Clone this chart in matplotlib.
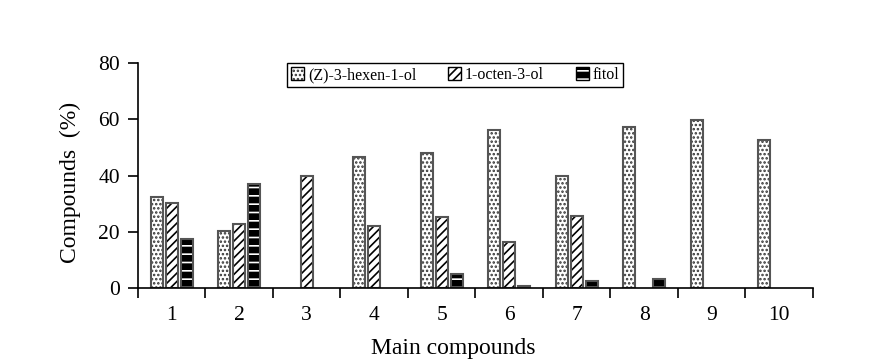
import matplotlib
matplotlib.use("Agg")
import matplotlib.pyplot as plt
import numpy as np
from matplotlib.patches import Patch
from matplotlib.legend_handler import HandlerTuple

plt.rcParams['font.family'] = ['Liberation Serif', 'DejaVu Serif']
plt.rcParams['hatch.linewidth'] = 1.2

categories = ['1', '2', '3', '4', '5', '6', '7', '8', '9', '10']
hexenol = [32.4, 20.3, 0, 46.7, 47.9, 56.2, 39.8, 57.4, 59.6, 52.5]
octenol = [30.2, 22.7, 39.9, 22.1, 25.3, 16.2, 25.7, 0, 0, 0]
fitol = [17.4, 36.9, 0, 0, 5.0, 0.8, 2.6, 3.1, 0, 0]
labels = ['(Z)-3-hexen-1-ol', '1-octen-3-ol', 'fitol']

fig = plt.figure(figsize=(8.93, 3.61), dpi=100)
ax = fig.add_axes([0.1545, 0.2022, 0.7559, 0.6233])

x = np.arange(1, len(categories) + 1)
w = 0.18
off = 0.222
edge = '#555555'

def nz(vals):
    return [v if v > 0 else np.nan for v in vals]

ax.bar(x - off, nz(hexenol), w, facecolor='white', edgecolor='#333333', hatch='....', linewidth=0)
ax.bar(x - off, nz(hexenol), w, fill=False, edgecolor=edge, linewidth=1.5)
ax.bar(x, nz(octenol), w, facecolor='white', edgecolor='black', hatch='////', linewidth=0)
ax.bar(x, nz(octenol), w, fill=False, edgecolor=edge, linewidth=1.5)
ax.bar(x + off, nz(fitol), w, facecolor='black', edgecolor='white', hatch='--', linewidth=0)
ax.bar(x + off, nz(fitol), w, fill=False, edgecolor=edge, linewidth=1.5)

ax.set_xlim(0.5, 10.5)
ax.set_ylim(0, 80)
ax.set_yticks([0, 20, 40, 60, 80])
ax.set_xticks(x)
ax.set_xticklabels(categories)
ax.set_xticks(np.arange(0.5, 11, 1), minor=True)
ax.tick_params(axis='x', which='major', length=0, pad=13, labelsize=15.5)
ax.tick_params(axis='x', which='minor', length=7, width=1.2, direction='out')
ax.tick_params(axis='y', length=7, width=1.2, direction='out', labelsize=15.5, pad=6)
for s in ['top', 'right']:
    ax.spines[s].set_visible(False)
for s in ['left', 'bottom']:
    ax.spines[s].set_linewidth(1.2)

ax.set_xlabel('Main compounds', fontsize=17)
ax.set_ylabel('Compounds  (%)', fontsize=17)
ax.xaxis.set_label_coords(0.467, -0.223)
ax.yaxis.set_label_coords(-0.084, 0.471)

h1 = (Patch(facecolor='white', edgecolor='#333333', hatch='....', linewidth=0),
      Patch(fill=False, edgecolor='black', linewidth=1))
h2 = (Patch(facecolor='white', edgecolor='black', hatch='////', linewidth=0),
      Patch(fill=False, edgecolor='black', linewidth=1))
h3 = (Patch(facecolor='black', edgecolor='white', hatch='--', linewidth=0),
      Patch(fill=False, edgecolor='black', linewidth=1))
leg = ax.legend([h1, h2, h3], labels, handler_map={tuple: HandlerTuple(ndivide=1, pad=0)},
                ncol=3, loc='upper center', bbox_to_anchor=(0.47, 1.0), borderaxespad=0,
                fontsize=11.5,
                frameon=True, fancybox=False, edgecolor='black', framealpha=1,
                handlelength=0.8, handleheight=0.8, handletextpad=0.25, columnspacing=2.0,
                borderpad=0.25)
leg.get_frame().set_linewidth(1.0)

fig.savefig('out.png', dpi=100)
